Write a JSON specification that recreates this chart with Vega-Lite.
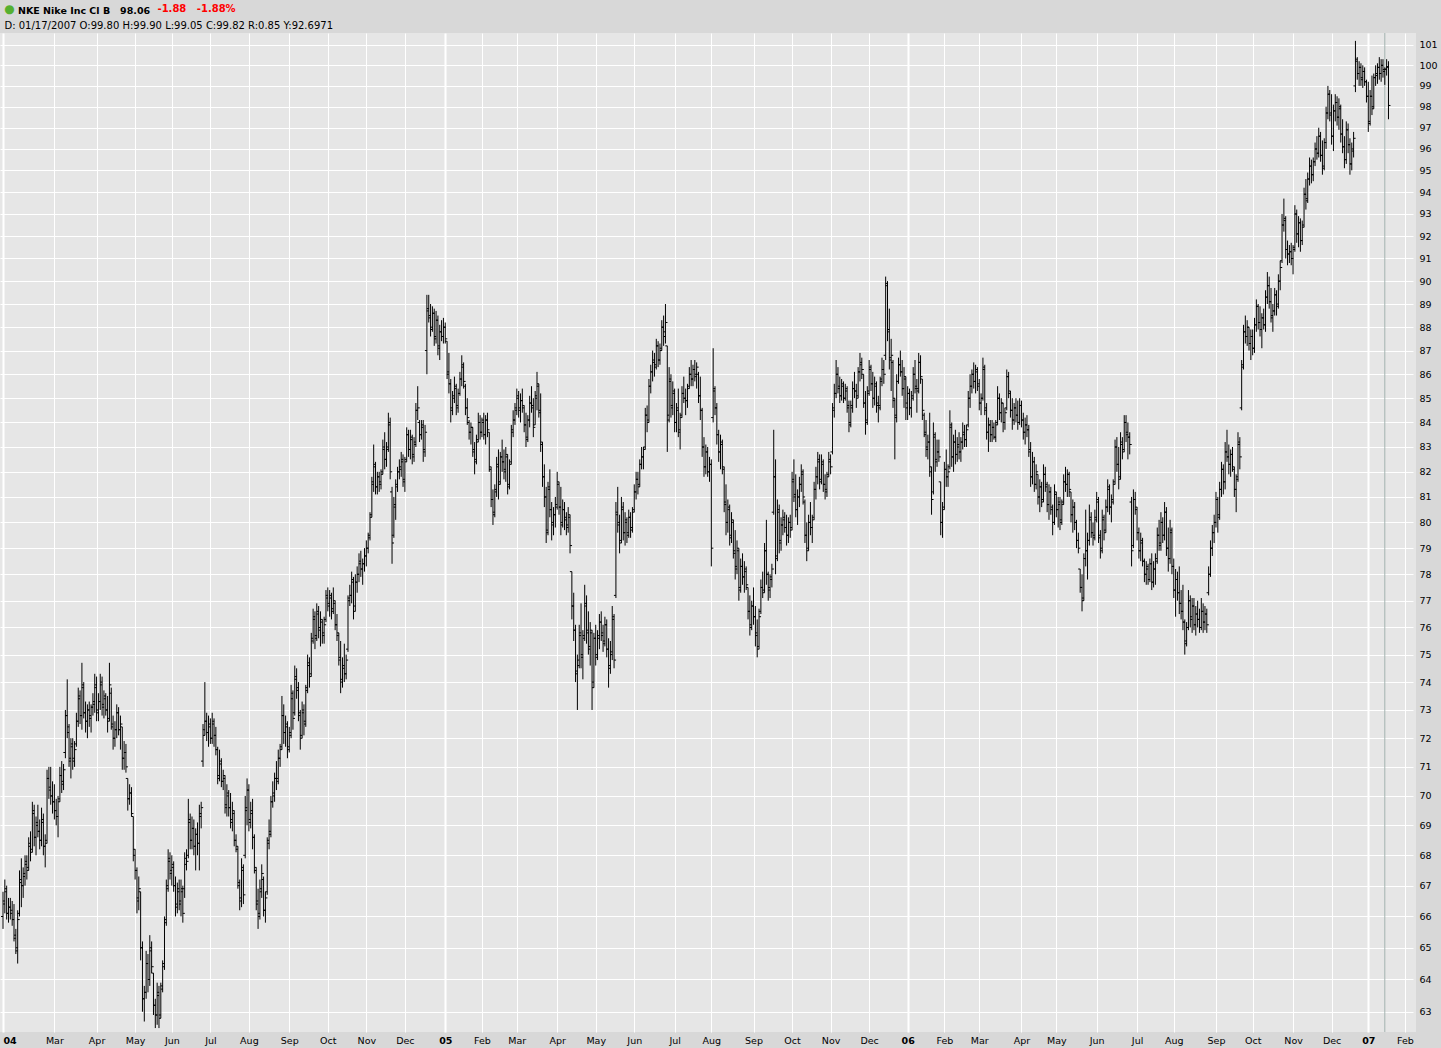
{
"$schema": "https://vega.github.io/schema/vega-lite/v6.json",
"width": 1416,
"height": 999,
"autosize": {"type": "none"},
"padding": {"left": 0, "top": 33, "right": 25, "bottom": 16},
"background": "#d8d8d8",
"config": {
  "view": {"fill": "#e6e6e6", "stroke": null},
  "axis": {"labelFont": "DejaVu Sans", "labelFontSize": 9.5, "labelColor": "#000000", "gridColor": "#ffffff", "gridOpacity": 1, "domain": false, "ticks": false}
},
"title": {
  "text": "NKE Nike Inc Cl B\u00a0\u00a0\u00a098.06",
  "anchor": "start", "frame": "group", "orient": "top", "dx": 18,
  "font": "DejaVu Sans", "fontSize": 9.5, "fontWeight": "bold", "color": "#000000",
  "offset": -13
},
"resolve": {"axis": {"y": "independent"}},
"datasets": {
"nke": [
{"d":"2004-01-20","o":66.0,"h":66.8,"l":65.6,"c":66.4},
{"d":"2004-01-21","o":66.5,"h":67.2,"l":66.1,"c":66.9},
{"d":"2004-01-22","o":66.8,"h":67.0,"l":65.9,"c":66.1},
{"d":"2004-01-23","o":66.1,"h":66.6,"l":65.8,"c":66.3},
{"d":"2004-01-26","o":66.3,"h":66.6,"l":65.9,"c":66.2},
{"d":"2004-01-27","o":66.1,"h":66.5,"l":65.7,"c":65.9},
{"d":"2004-01-28","o":65.9,"h":66.4,"l":65.2,"c":65.4},
{"d":"2004-01-29","o":65.3,"h":65.6,"l":64.8,"c":65.0},
{"d":"2004-01-30","o":64.9,"h":66.2,"l":64.5,"c":65.9},
{"d":"2004-02-02","o":66.1,"h":67.5,"l":66.0,"c":67.2},
{"d":"2004-02-03","o":67.1,"h":67.9,"l":66.3,"c":67.0},
{"d":"2004-02-04","o":67.0,"h":67.6,"l":66.6,"c":67.4},
{"d":"2004-02-05","o":67.3,"h":68.0,"l":67.0,"c":67.8},
{"d":"2004-02-06","o":67.7,"h":68.0,"l":67.2,"c":67.5},
{"d":"2004-02-09","o":67.6,"h":68.6,"l":67.5,"c":68.4},
{"d":"2004-02-10","o":68.3,"h":68.8,"l":67.8,"c":68.1},
{"d":"2004-02-11","o":68.2,"h":69.8,"l":68.1,"c":69.5},
{"d":"2004-02-12","o":69.4,"h":69.7,"l":68.3,"c":68.6},
{"d":"2004-02-13","o":68.6,"h":69.3,"l":68.0,"c":69.0},
{"d":"2004-02-17","o":69.1,"h":69.7,"l":68.6,"c":68.8},
{"d":"2004-02-18","o":68.8,"h":69.2,"l":68.2,"c":68.5},
{"d":"2004-02-19","o":68.5,"h":69.6,"l":68.3,"c":69.2},
{"d":"2004-02-20","o":69.1,"h":69.4,"l":68.0,"c":68.3},
{"d":"2004-02-23","o":68.3,"h":68.7,"l":67.6,"c":68.4},
{"d":"2004-02-24","o":68.5,"h":70.9,"l":68.4,"c":70.6},
{"d":"2004-02-25","o":70.6,"h":71.0,"l":69.9,"c":70.2},
{"d":"2004-02-26","o":70.3,"h":71.0,"l":69.7,"c":70.0},
{"d":"2004-02-27","o":70.0,"h":70.5,"l":69.4,"c":69.8},
{"d":"2004-03-01","o":69.8,"h":70.4,"l":69.2,"c":69.5},
{"d":"2004-03-02","o":69.5,"h":69.9,"l":69.0,"c":69.3},
{"d":"2004-03-03","o":69.3,"h":70.0,"l":68.6,"c":69.8},
{"d":"2004-03-04","o":69.9,"h":71.0,"l":69.8,"c":70.7},
{"d":"2004-03-05","o":70.7,"h":71.2,"l":70.1,"c":70.4},
{"d":"2004-03-08","o":70.5,"h":71.1,"l":70.2,"c":70.9},
{"d":"2004-03-09","o":71.5,"h":73.0,"l":71.3,"c":72.8},
{"d":"2004-03-10","o":72.8,"h":74.1,"l":72.0,"c":72.4},
{"d":"2004-03-11","o":72.2,"h":72.5,"l":71.0,"c":71.3},
{"d":"2004-03-12","o":71.2,"h":72.0,"l":70.6,"c":71.8},
{"d":"2004-03-15","o":71.7,"h":72.0,"l":70.9,"c":71.2},
{"d":"2004-03-16","o":71.3,"h":71.9,"l":71.0,"c":71.6},
{"d":"2004-03-17","o":71.8,"h":72.9,"l":71.7,"c":72.6},
{"d":"2004-03-18","o":72.6,"h":73.8,"l":72.4,"c":73.5},
{"d":"2004-03-19","o":73.4,"h":73.7,"l":72.5,"c":72.8},
{"d":"2004-03-22","o":72.8,"h":74.7,"l":72.3,"c":73.9},
{"d":"2004-03-23","o":73.8,"h":74.0,"l":72.7,"c":72.9},
{"d":"2004-03-24","o":72.9,"h":73.3,"l":72.2,"c":72.6},
{"d":"2004-03-25","o":72.6,"h":73.2,"l":72.0,"c":73.0},
{"d":"2004-03-26","o":73.0,"h":73.3,"l":72.4,"c":72.7},
{"d":"2004-03-29","o":72.8,"h":73.2,"l":72.2,"c":73.1},
{"d":"2004-03-30","o":73.1,"h":73.6,"l":72.8,"c":73.3},
{"d":"2004-03-31","o":73.2,"h":74.3,"l":72.9,"c":73.9},
{"d":"2004-04-01","o":73.8,"h":74.2,"l":72.6,"c":72.9},
{"d":"2004-04-02","o":73.0,"h":73.6,"l":72.6,"c":73.3},
{"d":"2004-04-05","o":73.3,"h":74.3,"l":73.0,"c":74.0},
{"d":"2004-04-06","o":73.9,"h":74.2,"l":72.8,"c":73.1},
{"d":"2004-04-07","o":73.2,"h":73.7,"l":72.7,"c":73.5},
{"d":"2004-04-08","o":73.4,"h":73.6,"l":72.8,"c":73.0},
{"d":"2004-04-12","o":73.0,"h":73.5,"l":72.2,"c":72.6},
{"d":"2004-04-13","o":72.7,"h":74.7,"l":72.6,"c":73.9},
{"d":"2004-04-14","o":73.6,"h":73.8,"l":72.3,"c":72.5},
{"d":"2004-04-15","o":72.4,"h":72.8,"l":71.6,"c":72.0},
{"d":"2004-04-16","o":72.0,"h":72.6,"l":71.7,"c":72.3},
{"d":"2004-04-19","o":72.3,"h":73.2,"l":72.0,"c":72.9},
{"d":"2004-04-20","o":72.9,"h":73.1,"l":72.1,"c":72.3},
{"d":"2004-04-21","o":72.3,"h":72.8,"l":71.6,"c":72.5},
{"d":"2004-04-22","o":72.4,"h":72.4,"l":70.9,"c":71.3},
{"d":"2004-04-23","o":71.3,"h":71.9,"l":70.9,"c":71.5},
{"d":"2004-04-26","o":71.5,"h":71.8,"l":70.8,"c":71.0},
{"d":"2004-04-27","o":70.6,"h":70.6,"l":69.5,"c":69.9},
{"d":"2004-04-28","o":69.9,"h":70.4,"l":69.7,"c":70.1},
{"d":"2004-04-29","o":70.1,"h":70.3,"l":69.3,"c":69.4},
{"d":"2004-04-30","o":69.3,"h":69.3,"l":67.8,"c":68.2},
{"d":"2004-05-03","o":68.0,"h":68.2,"l":67.2,"c":67.5},
{"d":"2004-05-04","o":67.5,"h":67.6,"l":66.1,"c":66.5},
{"d":"2004-05-05","o":66.6,"h":67.3,"l":66.2,"c":66.9},
{"d":"2004-05-06","o":66.8,"h":66.8,"l":64.6,"c":65.0},
{"d":"2004-05-07","o":65.0,"h":65.2,"l":63.0,"c":63.4},
{"d":"2004-05-10","o":63.4,"h":63.8,"l":62.7,"c":63.6},
{"d":"2004-05-11","o":63.6,"h":64.9,"l":63.4,"c":64.5},
{"d":"2004-05-12","o":64.5,"h":64.8,"l":63.6,"c":64.0},
{"d":"2004-05-13","o":64.0,"h":65.4,"l":63.8,"c":65.0},
{"d":"2004-05-14","o":64.9,"h":65.2,"l":64.2,"c":64.4},
{"d":"2004-05-17","o":64.2,"h":64.2,"l":62.9,"c":63.2},
{"d":"2004-05-18","o":63.2,"h":63.4,"l":62.5,"c":62.9},
{"d":"2004-05-19","o":62.9,"h":63.9,"l":62.6,"c":63.6},
{"d":"2004-05-20","o":63.5,"h":63.8,"l":62.5,"c":62.8},
{"d":"2004-05-21","o":62.9,"h":63.9,"l":62.8,"c":63.7},
{"d":"2004-05-24","o":63.8,"h":64.6,"l":63.6,"c":64.4},
{"d":"2004-05-25","o":64.5,"h":66.0,"l":64.3,"c":65.8},
{"d":"2004-05-26","o":65.9,"h":67.2,"l":65.7,"c":66.9},
{"d":"2004-05-27","o":67.0,"h":68.2,"l":66.8,"c":67.9},
{"d":"2004-05-28","o":67.8,"h":68.1,"l":67.2,"c":67.5},
{"d":"2004-06-01","o":67.4,"h":68.0,"l":67.0,"c":67.7},
{"d":"2004-06-02","o":67.6,"h":67.8,"l":66.8,"c":67.0},
{"d":"2004-06-03","o":67.0,"h":67.3,"l":66.0,"c":66.3},
{"d":"2004-06-04","o":66.4,"h":67.1,"l":66.1,"c":66.8},
{"d":"2004-06-07","o":66.9,"h":67.2,"l":66.2,"c":66.5},
{"d":"2004-06-08","o":66.4,"h":67.2,"l":66.0,"c":66.9},
{"d":"2004-06-09","o":66.8,"h":67.0,"l":65.8,"c":66.1},
{"d":"2004-06-10","o":66.9,"h":68.1,"l":66.6,"c":67.9},
{"d":"2004-06-14","o":67.7,"h":68.2,"l":67.5,"c":67.8},
{"d":"2004-06-15","o":68.0,"h":69.9,"l":67.9,"c":69.2},
{"d":"2004-06-16","o":69.1,"h":69.4,"l":68.2,"c":68.5},
{"d":"2004-06-17","o":68.5,"h":69.3,"l":68.2,"c":68.9},
{"d":"2004-06-18","o":68.9,"h":69.2,"l":68.0,"c":68.3},
{"d":"2004-06-21","o":68.3,"h":68.9,"l":67.5,"c":68.7},
{"d":"2004-06-22","o":68.7,"h":69.1,"l":68.0,"c":68.4},
{"d":"2004-06-23","o":68.4,"h":69.7,"l":67.5,"c":69.4},
{"d":"2004-06-24","o":69.3,"h":69.8,"l":68.9,"c":69.6},
{"d":"2004-06-25","o":71.2,"h":72.5,"l":71.0,"c":72.1},
{"d":"2004-06-28","o":72.3,"h":74.0,"l":72.1,"c":72.6},
{"d":"2004-06-29","o":72.6,"h":72.9,"l":71.9,"c":72.2},
{"d":"2004-06-30","o":72.2,"h":72.8,"l":71.7,"c":72.5},
{"d":"2004-07-01","o":72.4,"h":72.7,"l":71.8,"c":72.0},
{"d":"2004-07-02","o":72.0,"h":72.9,"l":71.8,"c":72.6},
{"d":"2004-07-06","o":72.5,"h":72.7,"l":71.7,"c":72.1},
{"d":"2004-07-07","o":72.1,"h":72.4,"l":71.4,"c":71.6},
{"d":"2004-07-08","o":71.6,"h":71.7,"l":70.4,"c":70.6},
{"d":"2004-07-09","o":70.7,"h":71.6,"l":70.5,"c":71.2},
{"d":"2004-07-12","o":71.1,"h":71.3,"l":70.3,"c":70.5},
{"d":"2004-07-13","o":70.5,"h":70.9,"l":70.2,"c":70.7},
{"d":"2004-07-14","o":70.6,"h":70.7,"l":69.4,"c":69.6},
{"d":"2004-07-15","o":69.7,"h":70.4,"l":69.3,"c":70.1},
{"d":"2004-07-16","o":70.0,"h":70.2,"l":69.3,"c":69.6},
{"d":"2004-07-19","o":69.6,"h":70.1,"l":68.9,"c":69.1},
{"d":"2004-07-20","o":69.2,"h":69.8,"l":68.8,"c":69.5},
{"d":"2004-07-21","o":69.4,"h":69.5,"l":68.3,"c":68.5},
{"d":"2004-07-22","o":68.5,"h":68.7,"l":68.1,"c":68.3},
{"d":"2004-07-23","o":68.2,"h":68.3,"l":66.9,"c":67.1},
{"d":"2004-07-26","o":67.0,"h":67.2,"l":66.2,"c":66.5},
{"d":"2004-07-27","o":66.6,"h":67.9,"l":66.3,"c":67.6},
{"d":"2004-07-28","o":67.5,"h":67.7,"l":66.4,"c":66.7},
{"d":"2004-07-29","o":68.0,"h":70.0,"l":67.9,"c":69.6},
{"d":"2004-07-30","o":69.5,"h":70.6,"l":69.0,"c":70.2},
{"d":"2004-08-02","o":70.2,"h":70.4,"l":68.8,"c":69.1},
{"d":"2004-08-03","o":69.2,"h":69.8,"l":68.9,"c":69.5},
{"d":"2004-08-04","o":69.4,"h":69.9,"l":68.2,"c":68.6},
{"d":"2004-08-05","o":68.6,"h":68.7,"l":67.4,"c":67.6},
{"d":"2004-08-06","o":67.5,"h":67.6,"l":66.2,"c":66.5},
{"d":"2004-08-09","o":66.4,"h":66.9,"l":65.6,"c":66.0},
{"d":"2004-08-10","o":66.1,"h":67.2,"l":65.9,"c":66.9},
{"d":"2004-08-11","o":66.8,"h":67.7,"l":66.6,"c":67.4},
{"d":"2004-08-12","o":67.2,"h":67.3,"l":66.0,"c":66.2},
{"d":"2004-08-13","o":66.2,"h":66.8,"l":65.8,"c":66.6},
{"d":"2004-08-16","o":66.8,"h":68.6,"l":66.7,"c":68.4},
{"d":"2004-08-17","o":68.5,"h":69.2,"l":68.2,"c":68.7},
{"d":"2004-08-18","o":68.8,"h":70.0,"l":68.6,"c":69.8},
{"d":"2004-08-19","o":69.8,"h":70.5,"l":69.6,"c":70.0},
{"d":"2004-08-20","o":70.1,"h":70.8,"l":69.8,"c":70.6},
{"d":"2004-08-23","o":70.6,"h":71.2,"l":70.2,"c":70.5},
{"d":"2004-08-24","o":70.6,"h":71.6,"l":70.4,"c":71.3},
{"d":"2004-08-25","o":71.3,"h":71.8,"l":71.0,"c":71.6},
{"d":"2004-08-26","o":71.7,"h":73.5,"l":71.6,"c":72.8},
{"d":"2004-08-27","o":72.8,"h":73.2,"l":71.8,"c":72.2},
{"d":"2004-08-30","o":72.2,"h":72.8,"l":71.7,"c":72.5},
{"d":"2004-08-31","o":72.4,"h":72.6,"l":71.3,"c":71.6},
{"d":"2004-09-01","o":71.7,"h":72.4,"l":71.5,"c":72.1},
{"d":"2004-09-02","o":72.2,"h":73.9,"l":72.0,"c":73.6},
{"d":"2004-09-03","o":73.4,"h":73.7,"l":72.3,"c":72.7},
{"d":"2004-09-07","o":72.9,"h":74.6,"l":72.8,"c":74.2},
{"d":"2004-09-08","o":74.1,"h":74.5,"l":73.4,"c":73.8},
{"d":"2004-09-09","o":73.7,"h":74.0,"l":72.6,"c":72.9},
{"d":"2004-09-10","o":72.8,"h":73.0,"l":71.6,"c":72.0},
{"d":"2004-09-13","o":72.1,"h":73.3,"l":72.0,"c":73.0},
{"d":"2004-09-14","o":72.9,"h":73.2,"l":72.1,"c":72.5},
{"d":"2004-09-15","o":72.6,"h":73.9,"l":72.4,"c":73.7},
{"d":"2004-09-16","o":73.8,"h":75.0,"l":73.6,"c":74.7},
{"d":"2004-09-17","o":74.6,"h":74.9,"l":73.8,"c":74.2},
{"d":"2004-09-20","o":74.3,"h":75.8,"l":74.2,"c":75.5},
{"d":"2004-09-21","o":75.6,"h":76.7,"l":75.4,"c":76.4},
{"d":"2004-09-22","o":76.3,"h":76.6,"l":75.2,"c":75.6},
{"d":"2004-09-23","o":75.7,"h":76.9,"l":75.5,"c":76.6},
{"d":"2004-09-24","o":76.5,"h":76.8,"l":75.6,"c":75.9},
{"d":"2004-09-27","o":76.0,"h":76.6,"l":75.3,"c":76.3},
{"d":"2004-09-28","o":76.2,"h":76.3,"l":75.4,"c":75.7},
{"d":"2004-09-29","o":75.8,"h":76.4,"l":75.4,"c":76.1},
{"d":"2004-09-30","o":76.3,"h":77.4,"l":76.2,"c":77.1},
{"d":"2004-10-01","o":77.2,"h":77.5,"l":76.6,"c":76.8},
{"d":"2004-10-04","o":76.9,"h":77.4,"l":76.4,"c":77.2},
{"d":"2004-10-05","o":77.1,"h":77.3,"l":76.3,"c":76.6},
{"d":"2004-10-06","o":76.7,"h":77.5,"l":76.5,"c":77.0},
{"d":"2004-10-07","o":76.9,"h":77.0,"l":75.9,"c":76.1},
{"d":"2004-10-08","o":76.1,"h":76.5,"l":75.5,"c":75.8},
{"d":"2004-10-11","o":75.7,"h":75.8,"l":74.6,"c":74.9},
{"d":"2004-10-12","o":74.8,"h":75.5,"l":73.6,"c":74.0},
{"d":"2004-10-13","o":74.1,"h":74.9,"l":73.8,"c":74.6},
{"d":"2004-10-14","o":74.5,"h":75.4,"l":74.0,"c":74.3},
{"d":"2004-10-15","o":74.3,"h":75.0,"l":74.1,"c":74.8},
{"d":"2004-10-18","o":75.2,"h":77.2,"l":75.1,"c":77.0},
{"d":"2004-10-19","o":77.1,"h":77.6,"l":76.8,"c":77.2},
{"d":"2004-10-20","o":77.2,"h":78.1,"l":76.9,"c":77.8},
{"d":"2004-10-21","o":77.7,"h":77.9,"l":76.3,"c":76.6},
{"d":"2004-10-22","o":76.8,"h":78.0,"l":76.6,"c":77.7},
{"d":"2004-10-25","o":77.7,"h":78.3,"l":77.3,"c":78.0},
{"d":"2004-10-26","o":78.0,"h":78.8,"l":77.7,"c":78.5},
{"d":"2004-10-27","o":78.4,"h":78.9,"l":77.9,"c":78.2},
{"d":"2004-10-28","o":78.2,"h":78.6,"l":77.6,"c":78.4},
{"d":"2004-10-29","o":78.4,"h":79.0,"l":78.1,"c":78.7},
{"d":"2004-11-01","o":78.7,"h":79.3,"l":78.3,"c":79.0},
{"d":"2004-11-02","o":79.0,"h":79.6,"l":78.8,"c":79.4},
{"d":"2004-11-03","o":79.5,"h":80.4,"l":79.3,"c":80.2},
{"d":"2004-11-04","o":80.3,"h":81.8,"l":80.2,"c":81.5},
{"d":"2004-11-05","o":81.6,"h":83.1,"l":81.2,"c":82.3},
{"d":"2004-11-08","o":82.2,"h":82.4,"l":81.1,"c":81.4},
{"d":"2004-11-09","o":81.4,"h":82.0,"l":81.1,"c":81.8},
{"d":"2004-11-10","o":81.8,"h":82.0,"l":81.2,"c":81.5},
{"d":"2004-11-11","o":81.6,"h":82.1,"l":81.3,"c":81.9},
{"d":"2004-11-12","o":82.0,"h":83.3,"l":81.9,"c":83.0},
{"d":"2004-11-15","o":82.9,"h":83.6,"l":82.1,"c":82.5},
{"d":"2004-11-16","o":82.5,"h":83.2,"l":82.2,"c":82.9},
{"d":"2004-11-17","o":83.0,"h":84.4,"l":82.8,"c":84.0},
{"d":"2004-11-18","o":83.9,"h":84.2,"l":81.7,"c":82.0},
{"d":"2004-11-19","o":81.2,"h":81.4,"l":78.4,"c":79.2},
{"d":"2004-11-22","o":79.5,"h":81.0,"l":79.4,"c":80.7},
{"d":"2004-11-23","o":80.6,"h":81.7,"l":80.1,"c":81.4},
{"d":"2004-11-24","o":81.5,"h":82.2,"l":81.2,"c":82.0},
{"d":"2004-11-26","o":82.0,"h":82.5,"l":81.7,"c":82.1},
{"d":"2004-11-29","o":82.2,"h":82.8,"l":81.8,"c":82.5},
{"d":"2004-11-30","o":82.4,"h":82.7,"l":81.4,"c":81.6},
{"d":"2004-12-01","o":81.7,"h":82.6,"l":81.2,"c":82.4},
{"d":"2004-12-02","o":82.5,"h":83.8,"l":82.4,"c":83.5},
{"d":"2004-12-03","o":83.5,"h":83.7,"l":82.6,"c":82.9},
{"d":"2004-12-06","o":82.9,"h":83.7,"l":82.5,"c":83.4},
{"d":"2004-12-07","o":83.3,"h":83.5,"l":82.3,"c":82.6},
{"d":"2004-12-08","o":82.7,"h":83.4,"l":82.4,"c":83.1},
{"d":"2004-12-09","o":83.2,"h":84.8,"l":83.0,"c":84.5},
{"d":"2004-12-10","o":84.5,"h":85.5,"l":84.1,"c":84.6},
{"d":"2004-12-13","o":84.0,"h":84.1,"l":83.2,"c":83.5},
{"d":"2004-12-14","o":83.5,"h":84.1,"l":83.3,"c":83.9},
{"d":"2004-12-15","o":83.8,"h":84.1,"l":82.4,"c":82.8},
{"d":"2004-12-16","o":82.9,"h":83.9,"l":82.6,"c":83.6},
{"d":"2004-12-17","o":87.0,"h":89.4,"l":86.0,"c":88.8},
{"d":"2004-12-20","o":88.7,"h":89.4,"l":88.2,"c":88.5},
{"d":"2004-12-21","o":88.4,"h":89.0,"l":87.6,"c":87.9},
{"d":"2004-12-22","o":88.0,"h":88.9,"l":87.8,"c":88.6},
{"d":"2004-12-23","o":88.6,"h":88.8,"l":87.2,"c":87.5},
{"d":"2004-12-27","o":87.6,"h":88.7,"l":87.3,"c":88.3},
{"d":"2004-12-28","o":88.3,"h":88.5,"l":86.8,"c":87.1},
{"d":"2004-12-29","o":87.2,"h":88.1,"l":86.6,"c":87.8},
{"d":"2004-12-30","o":87.8,"h":88.3,"l":87.4,"c":87.6},
{"d":"2004-12-31","o":87.6,"h":88.4,"l":87.3,"c":88.0},
{"d":"2005-01-03","o":88.0,"h":88.2,"l":87.3,"c":87.5},
{"d":"2005-01-04","o":87.4,"h":87.4,"l":85.8,"c":86.1},
{"d":"2005-01-05","o":86.0,"h":86.9,"l":85.2,"c":85.6},
{"d":"2005-01-06","o":85.6,"h":85.8,"l":84.0,"c":84.5},
{"d":"2005-01-07","o":84.6,"h":85.3,"l":84.3,"c":85.0},
{"d":"2005-01-10","o":85.1,"h":85.9,"l":84.8,"c":85.5},
{"d":"2005-01-11","o":85.4,"h":85.6,"l":84.3,"c":84.6},
{"d":"2005-01-12","o":84.7,"h":85.4,"l":84.4,"c":85.2},
{"d":"2005-01-13","o":85.2,"h":86.1,"l":85.1,"c":85.8},
{"d":"2005-01-14","o":85.8,"h":86.8,"l":85.5,"c":86.4},
{"d":"2005-01-18","o":86.3,"h":86.5,"l":85.4,"c":85.7},
{"d":"2005-01-19","o":85.5,"h":85.6,"l":84.3,"c":84.6},
{"d":"2005-01-20","o":84.6,"h":85.0,"l":83.9,"c":84.2},
{"d":"2005-01-21","o":84.0,"h":84.1,"l":83.3,"c":83.6},
{"d":"2005-01-24","o":83.6,"h":84.0,"l":83.1,"c":83.8},
{"d":"2005-01-25","o":83.8,"h":83.8,"l":82.6,"c":82.9},
{"d":"2005-01-26","o":82.8,"h":83.2,"l":81.9,"c":82.4},
{"d":"2005-01-27","o":82.5,"h":83.5,"l":82.3,"c":83.2},
{"d":"2005-01-28","o":83.3,"h":84.4,"l":83.2,"c":84.0},
{"d":"2005-01-31","o":84.0,"h":84.3,"l":83.3,"c":83.6},
{"d":"2005-02-01","o":83.6,"h":84.2,"l":83.4,"c":84.0},
{"d":"2005-02-02","o":84.1,"h":84.4,"l":83.3,"c":83.5},
{"d":"2005-02-03","o":83.5,"h":84.3,"l":83.1,"c":84.1},
{"d":"2005-02-04","o":84.1,"h":84.4,"l":83.4,"c":83.7},
{"d":"2005-02-07","o":83.6,"h":83.6,"l":82.0,"c":82.2},
{"d":"2005-02-08","o":82.1,"h":82.2,"l":80.6,"c":80.9},
{"d":"2005-02-09","o":80.9,"h":81.3,"l":79.9,"c":80.3},
{"d":"2005-02-10","o":80.4,"h":81.5,"l":80.2,"c":81.2},
{"d":"2005-02-11","o":81.3,"h":82.6,"l":81.0,"c":82.3},
{"d":"2005-02-14","o":82.2,"h":82.9,"l":80.9,"c":81.5},
{"d":"2005-02-15","o":81.6,"h":82.8,"l":81.5,"c":82.6},
{"d":"2005-02-16","o":82.6,"h":83.3,"l":82.0,"c":82.4},
{"d":"2005-02-17","o":82.4,"h":82.9,"l":81.7,"c":82.0},
{"d":"2005-02-18","o":82.1,"h":83.0,"l":81.6,"c":82.7},
{"d":"2005-02-22","o":82.6,"h":82.7,"l":81.1,"c":81.4},
{"d":"2005-02-23","o":81.5,"h":82.5,"l":81.3,"c":82.3},
{"d":"2005-02-24","o":82.4,"h":83.9,"l":82.3,"c":83.6},
{"d":"2005-02-25","o":83.7,"h":84.5,"l":83.4,"c":84.1},
{"d":"2005-02-28","o":84.1,"h":84.8,"l":83.9,"c":84.5},
{"d":"2005-03-01","o":84.6,"h":85.4,"l":84.3,"c":85.1},
{"d":"2005-03-02","o":85.0,"h":85.3,"l":84.2,"c":84.5},
{"d":"2005-03-03","o":84.6,"h":85.2,"l":84.0,"c":84.9},
{"d":"2005-03-04","o":84.9,"h":85.4,"l":84.4,"c":84.7},
{"d":"2005-03-07","o":84.6,"h":84.7,"l":83.6,"c":83.9},
{"d":"2005-03-08","o":83.9,"h":84.4,"l":83.0,"c":83.3},
{"d":"2005-03-09","o":83.4,"h":84.3,"l":83.2,"c":84.1},
{"d":"2005-03-10","o":84.1,"h":85.1,"l":83.8,"c":84.8},
{"d":"2005-03-11","o":84.8,"h":85.5,"l":84.4,"c":84.7},
{"d":"2005-03-14","o":84.6,"h":85.0,"l":83.4,"c":83.8},
{"d":"2005-03-15","o":83.9,"h":85.3,"l":83.9,"c":85.0},
{"d":"2005-03-16","o":85.1,"h":86.1,"l":84.5,"c":85.6},
{"d":"2005-03-17","o":85.5,"h":85.6,"l":84.2,"c":84.4},
{"d":"2005-03-18","o":84.5,"h":85.2,"l":82.8,"c":83.2},
{"d":"2005-03-21","o":83.1,"h":83.2,"l":81.4,"c":81.8},
{"d":"2005-03-22","o":81.8,"h":82.3,"l":80.6,"c":81.0},
{"d":"2005-03-23","o":81.0,"h":81.4,"l":79.2,"c":79.6},
{"d":"2005-03-24","o":79.7,"h":81.6,"l":79.5,"c":81.3},
{"d":"2005-03-28","o":81.4,"h":82.1,"l":80.2,"c":80.5},
{"d":"2005-03-29","o":80.5,"h":80.8,"l":79.3,"c":79.9},
{"d":"2005-03-30","o":80.0,"h":80.6,"l":79.5,"c":80.3},
{"d":"2005-03-31","o":80.3,"h":81.0,"l":79.8,"c":80.6},
{"d":"2005-04-01","o":80.7,"h":82.0,"l":80.5,"c":81.6},
{"d":"2005-04-04","o":81.5,"h":81.6,"l":80.3,"c":80.6},
{"d":"2005-04-05","o":80.6,"h":81.4,"l":79.5,"c":79.9},
{"d":"2005-04-06","o":80.0,"h":80.9,"l":79.8,"c":80.5},
{"d":"2005-04-07","o":80.5,"h":80.8,"l":79.7,"c":80.2},
{"d":"2005-04-08","o":80.1,"h":80.4,"l":79.5,"c":79.8},
{"d":"2005-04-11","o":79.9,"h":80.6,"l":79.6,"c":80.3},
{"d":"2005-04-12","o":80.2,"h":80.3,"l":78.8,"c":79.1},
{"d":"2005-04-13","o":78.1,"h":78.1,"l":76.3,"c":76.8},
{"d":"2005-04-14","o":76.8,"h":77.3,"l":75.5,"c":75.9},
{"d":"2005-04-15","o":75.9,"h":76.1,"l":74.0,"c":74.4},
{"d":"2005-04-18","o":74.3,"h":75.0,"l":73.0,"c":74.6},
{"d":"2005-04-19","o":74.8,"h":76.1,"l":74.5,"c":75.8},
{"d":"2005-04-20","o":75.7,"h":76.9,"l":74.5,"c":74.9},
{"d":"2005-04-21","o":75.0,"h":75.9,"l":74.1,"c":75.6},
{"d":"2005-04-22","o":75.7,"h":77.6,"l":75.5,"c":76.9},
{"d":"2005-04-25","o":76.8,"h":77.2,"l":75.4,"c":75.8},
{"d":"2005-04-26","o":75.9,"h":76.6,"l":75.0,"c":75.3},
{"d":"2005-04-27","o":75.2,"h":76.2,"l":74.6,"c":75.9},
{"d":"2005-04-28","o":75.8,"h":75.9,"l":73.0,"c":73.8},
{"d":"2005-04-29","o":74.0,"h":75.8,"l":73.8,"c":75.6},
{"d":"2005-05-02","o":75.6,"h":76.1,"l":74.6,"c":74.9},
{"d":"2005-05-03","o":75.0,"h":75.9,"l":74.8,"c":75.6},
{"d":"2005-05-04","o":75.7,"h":76.5,"l":75.2,"c":76.2},
{"d":"2005-05-05","o":76.2,"h":76.6,"l":75.5,"c":75.8},
{"d":"2005-05-06","o":75.7,"h":76.1,"l":75.1,"c":75.4},
{"d":"2005-05-09","o":75.5,"h":76.4,"l":75.3,"c":76.1},
{"d":"2005-05-10","o":76.1,"h":76.3,"l":74.9,"c":75.2},
{"d":"2005-05-11","o":75.2,"h":75.6,"l":73.8,"c":74.5},
{"d":"2005-05-12","o":74.6,"h":75.5,"l":74.3,"c":75.1},
{"d":"2005-05-13","o":75.0,"h":76.8,"l":74.8,"c":76.4},
{"d":"2005-05-16","o":76.3,"h":76.5,"l":74.5,"c":74.8},
{"d":"2005-05-17","o":77.2,"h":80.8,"l":77.1,"c":80.3},
{"d":"2005-05-18","o":80.4,"h":81.4,"l":79.6,"c":80.0},
{"d":"2005-05-19","o":79.9,"h":80.3,"l":78.8,"c":79.2},
{"d":"2005-05-20","o":79.3,"h":81.0,"l":79.2,"c":80.6},
{"d":"2005-05-23","o":80.5,"h":80.8,"l":79.3,"c":79.6},
{"d":"2005-05-24","o":79.6,"h":80.4,"l":79.1,"c":80.1},
{"d":"2005-05-25","o":80.0,"h":80.2,"l":79.2,"c":79.5},
{"d":"2005-05-26","o":79.6,"h":80.5,"l":79.4,"c":80.2},
{"d":"2005-05-27","o":80.2,"h":80.4,"l":79.4,"c":79.7},
{"d":"2005-05-31","o":79.8,"h":80.6,"l":79.6,"c":80.4},
{"d":"2005-06-01","o":80.5,"h":81.5,"l":80.4,"c":81.2},
{"d":"2005-06-02","o":81.2,"h":82.0,"l":80.9,"c":81.7},
{"d":"2005-06-03","o":81.7,"h":82.0,"l":81.1,"c":81.4},
{"d":"2005-06-06","o":81.5,"h":82.5,"l":81.4,"c":82.3},
{"d":"2005-06-07","o":82.3,"h":83.0,"l":82.1,"c":82.6},
{"d":"2005-06-08","o":82.6,"h":83.0,"l":82.1,"c":82.9},
{"d":"2005-06-09","o":83.0,"h":84.6,"l":82.9,"c":84.3},
{"d":"2005-06-10","o":84.3,"h":84.7,"l":83.6,"c":84.0},
{"d":"2005-06-13","o":84.1,"h":85.8,"l":84.0,"c":85.5},
{"d":"2005-06-14","o":85.5,"h":86.4,"l":85.2,"c":86.1},
{"d":"2005-06-15","o":86.1,"h":87.0,"l":85.7,"c":86.6},
{"d":"2005-06-16","o":86.5,"h":86.9,"l":85.9,"c":86.3},
{"d":"2005-06-17","o":86.4,"h":87.5,"l":86.2,"c":87.2},
{"d":"2005-06-20","o":87.2,"h":87.4,"l":86.3,"c":86.6},
{"d":"2005-06-21","o":86.6,"h":87.3,"l":86.4,"c":87.0},
{"d":"2005-06-22","o":87.1,"h":88.3,"l":87.0,"c":88.0},
{"d":"2005-06-23","o":88.0,"h":88.5,"l":87.2,"c":87.6},
{"d":"2005-06-24","o":87.8,"h":89.0,"l":87.3,"c":88.2},
{"d":"2005-06-27","o":87.2,"h":87.2,"l":82.8,"c":84.1},
{"d":"2005-06-28","o":84.3,"h":86.3,"l":84.0,"c":85.8},
{"d":"2005-06-29","o":85.7,"h":86.0,"l":84.2,"c":84.6},
{"d":"2005-06-30","o":84.7,"h":85.7,"l":84.3,"c":85.3},
{"d":"2005-07-01","o":85.2,"h":85.4,"l":83.6,"c":84.0},
{"d":"2005-07-05","o":84.0,"h":84.8,"l":83.6,"c":84.5},
{"d":"2005-07-06","o":84.6,"h":85.4,"l":83.4,"c":83.7},
{"d":"2005-07-07","o":83.6,"h":84.4,"l":82.9,"c":84.2},
{"d":"2005-07-08","o":84.3,"h":85.5,"l":84.2,"c":85.2},
{"d":"2005-07-11","o":85.2,"h":85.9,"l":84.8,"c":85.0},
{"d":"2005-07-12","o":85.0,"h":85.4,"l":84.3,"c":84.9},
{"d":"2005-07-13","o":84.9,"h":85.6,"l":84.6,"c":85.4},
{"d":"2005-07-14","o":85.5,"h":86.3,"l":85.4,"c":86.0},
{"d":"2005-07-15","o":86.0,"h":86.6,"l":85.5,"c":85.8},
{"d":"2005-07-18","o":85.8,"h":86.4,"l":85.5,"c":86.2},
{"d":"2005-07-19","o":86.2,"h":86.6,"l":85.7,"c":86.0},
{"d":"2005-07-20","o":85.9,"h":86.5,"l":85.4,"c":86.3},
{"d":"2005-07-21","o":86.0,"h":86.1,"l":84.8,"c":85.1},
{"d":"2005-07-22","o":85.1,"h":85.9,"l":84.1,"c":84.5},
{"d":"2005-07-25","o":84.5,"h":84.6,"l":82.6,"c":83.0},
{"d":"2005-07-26","o":83.0,"h":83.4,"l":81.8,"c":82.2},
{"d":"2005-07-27","o":82.2,"h":83.1,"l":81.9,"c":82.8},
{"d":"2005-07-28","o":82.8,"h":83.0,"l":81.8,"c":82.0},
{"d":"2005-07-29","o":82.0,"h":82.6,"l":81.6,"c":82.3},
{"d":"2005-08-01","o":82.3,"h":82.5,"l":78.3,"c":79.0},
{"d":"2005-08-02","o":84.2,"h":87.1,"l":84.0,"c":85.4},
{"d":"2005-08-03","o":85.3,"h":85.5,"l":84.3,"c":84.6},
{"d":"2005-08-04","o":84.6,"h":84.8,"l":83.1,"c":83.5},
{"d":"2005-08-05","o":83.5,"h":83.7,"l":82.4,"c":82.8},
{"d":"2005-08-08","o":82.8,"h":83.5,"l":82.1,"c":83.2},
{"d":"2005-08-09","o":83.1,"h":83.3,"l":81.9,"c":82.2},
{"d":"2005-08-10","o":82.1,"h":82.2,"l":80.4,"c":80.7},
{"d":"2005-08-11","o":80.8,"h":81.5,"l":79.5,"c":80.0},
{"d":"2005-08-12","o":80.0,"h":80.9,"l":79.6,"c":80.6},
{"d":"2005-08-15","o":80.5,"h":80.7,"l":79.1,"c":79.4},
{"d":"2005-08-16","o":79.5,"h":80.4,"l":79.2,"c":80.1},
{"d":"2005-08-17","o":80.0,"h":80.1,"l":78.6,"c":78.8},
{"d":"2005-08-18","o":78.9,"h":79.7,"l":77.8,"c":78.2},
{"d":"2005-08-19","o":78.3,"h":79.3,"l":78.0,"c":79.0},
{"d":"2005-08-22","o":78.9,"h":79.0,"l":77.0,"c":77.4},
{"d":"2005-08-23","o":77.5,"h":78.6,"l":77.3,"c":78.3},
{"d":"2005-08-24","o":78.3,"h":78.8,"l":77.6,"c":77.9},
{"d":"2005-08-25","o":77.9,"h":78.5,"l":77.3,"c":78.2},
{"d":"2005-08-26","o":78.1,"h":78.3,"l":77.4,"c":77.6},
{"d":"2005-08-29","o":77.5,"h":77.5,"l":76.3,"c":76.6},
{"d":"2005-08-30","o":76.6,"h":77.2,"l":75.7,"c":76.0},
{"d":"2005-08-31","o":76.1,"h":77.0,"l":75.9,"c":76.8},
{"d":"2005-09-01","o":76.8,"h":77.5,"l":76.1,"c":76.4},
{"d":"2005-09-02","o":76.4,"h":76.8,"l":75.3,"c":75.7},
{"d":"2005-09-06","o":75.8,"h":76.3,"l":74.9,"c":75.2},
{"d":"2005-09-07","o":75.3,"h":76.7,"l":75.2,"c":76.4},
{"d":"2005-09-08","o":76.6,"h":77.8,"l":76.5,"c":77.5},
{"d":"2005-09-09","o":77.5,"h":78.1,"l":77.1,"c":77.3},
{"d":"2005-09-12","o":77.4,"h":79.2,"l":77.3,"c":78.9},
{"d":"2005-09-13","o":78.9,"h":80.1,"l":77.6,"c":78.0},
{"d":"2005-09-14","o":78.0,"h":78.1,"l":77.0,"c":77.4},
{"d":"2005-09-15","o":77.5,"h":78.0,"l":77.1,"c":77.8},
{"d":"2005-09-16","o":77.9,"h":78.4,"l":77.5,"c":78.2},
{"d":"2005-09-19","o":80.4,"h":83.7,"l":80.3,"c":81.8},
{"d":"2005-09-20","o":81.8,"h":82.5,"l":78.0,"c":78.6},
{"d":"2005-09-21","o":78.7,"h":80.9,"l":78.5,"c":80.5},
{"d":"2005-09-22","o":80.4,"h":80.7,"l":78.8,"c":79.2},
{"d":"2005-09-23","o":79.3,"h":80.2,"l":78.9,"c":79.9},
{"d":"2005-09-26","o":79.9,"h":80.5,"l":79.5,"c":80.2},
{"d":"2005-09-27","o":80.1,"h":80.4,"l":79.6,"c":79.8},
{"d":"2005-09-28","o":79.8,"h":80.3,"l":79.1,"c":79.5},
{"d":"2005-09-29","o":79.5,"h":80.2,"l":79.2,"c":80.0},
{"d":"2005-09-30","o":80.0,"h":80.3,"l":79.4,"c":79.7},
{"d":"2005-10-03","o":79.8,"h":82.0,"l":79.7,"c":81.7},
{"d":"2005-10-04","o":81.6,"h":82.5,"l":80.8,"c":81.1},
{"d":"2005-10-05","o":81.0,"h":81.9,"l":80.2,"c":80.5},
{"d":"2005-10-06","o":80.5,"h":81.3,"l":79.9,"c":81.0},
{"d":"2005-10-07","o":81.0,"h":81.8,"l":80.6,"c":81.5},
{"d":"2005-10-10","o":81.5,"h":82.3,"l":81.2,"c":82.0},
{"d":"2005-10-11","o":81.9,"h":82.1,"l":80.7,"c":81.0},
{"d":"2005-10-12","o":80.8,"h":80.9,"l":79.2,"c":79.5},
{"d":"2005-10-13","o":79.5,"h":80.0,"l":78.5,"c":78.9},
{"d":"2005-10-14","o":79.0,"h":80.3,"l":78.9,"c":80.0},
{"d":"2005-10-17","o":80.0,"h":80.8,"l":79.5,"c":79.8},
{"d":"2005-10-18","o":79.8,"h":80.3,"l":79.2,"c":80.1},
{"d":"2005-10-19","o":80.2,"h":81.6,"l":80.1,"c":81.3},
{"d":"2005-10-20","o":81.3,"h":82.2,"l":80.9,"c":81.8},
{"d":"2005-10-21","o":81.8,"h":82.8,"l":81.5,"c":82.5},
{"d":"2005-10-24","o":82.4,"h":82.7,"l":81.3,"c":81.6},
{"d":"2005-10-25","o":81.7,"h":82.7,"l":81.5,"c":82.4},
{"d":"2005-10-26","o":82.3,"h":82.5,"l":81.2,"c":81.5},
{"d":"2005-10-27","o":81.5,"h":81.9,"l":80.9,"c":81.2},
{"d":"2005-10-28","o":81.3,"h":82.0,"l":81.0,"c":81.8},
{"d":"2005-10-31","o":81.9,"h":82.8,"l":81.8,"c":82.5},
{"d":"2005-11-01","o":82.4,"h":82.7,"l":81.9,"c":82.2},
{"d":"2005-11-02","o":82.8,"h":84.8,"l":82.7,"c":84.5},
{"d":"2005-11-03","o":84.6,"h":85.6,"l":84.2,"c":85.2},
{"d":"2005-11-04","o":85.2,"h":86.6,"l":85.0,"c":86.0},
{"d":"2005-11-07","o":86.0,"h":86.3,"l":85.2,"c":85.5},
{"d":"2005-11-08","o":85.4,"h":85.9,"l":84.8,"c":85.1},
{"d":"2005-11-09","o":85.1,"h":85.8,"l":84.9,"c":85.6},
{"d":"2005-11-10","o":85.5,"h":85.7,"l":84.8,"c":85.0},
{"d":"2005-11-11","o":85.0,"h":85.6,"l":84.9,"c":85.4},
{"d":"2005-11-14","o":85.3,"h":85.5,"l":84.4,"c":84.7},
{"d":"2005-11-15","o":84.6,"h":84.9,"l":83.6,"c":83.9},
{"d":"2005-11-16","o":84.0,"h":84.9,"l":83.8,"c":84.6},
{"d":"2005-11-17","o":84.7,"h":85.7,"l":84.4,"c":85.4},
{"d":"2005-11-18","o":85.4,"h":86.1,"l":85.0,"c":85.3},
{"d":"2005-11-21","o":85.3,"h":85.6,"l":84.6,"c":85.0},
{"d":"2005-11-22","o":85.1,"h":86.3,"l":85.0,"c":86.1},
{"d":"2005-11-23","o":86.1,"h":86.9,"l":85.7,"c":86.5},
{"d":"2005-11-25","o":86.4,"h":86.7,"l":85.8,"c":86.2},
{"d":"2005-11-28","o":86.0,"h":86.0,"l":84.6,"c":84.8},
{"d":"2005-11-29","o":84.8,"h":85.3,"l":83.5,"c":84.0},
{"d":"2005-11-30","o":84.1,"h":85.5,"l":83.9,"c":85.2},
{"d":"2005-12-01","o":85.3,"h":86.6,"l":85.1,"c":86.3},
{"d":"2005-12-02","o":86.2,"h":86.4,"l":85.3,"c":85.6},
{"d":"2005-12-05","o":85.6,"h":86.1,"l":84.6,"c":85.0},
{"d":"2005-12-06","o":85.0,"h":85.9,"l":84.7,"c":85.6},
{"d":"2005-12-07","o":85.5,"h":85.7,"l":84.4,"c":84.7},
{"d":"2005-12-08","o":84.8,"h":85.1,"l":84.0,"c":84.6},
{"d":"2005-12-09","o":84.7,"h":85.9,"l":84.5,"c":85.7},
{"d":"2005-12-12","o":85.8,"h":86.7,"l":85.5,"c":86.2},
{"d":"2005-12-13","o":86.2,"h":86.6,"l":85.6,"c":86.0},
{"d":"2005-12-14","o":86.8,"h":90.2,"l":86.6,"c":89.9},
{"d":"2005-12-15","o":89.8,"h":90.0,"l":87.4,"c":87.9},
{"d":"2005-12-16","o":87.8,"h":88.8,"l":86.2,"c":86.6},
{"d":"2005-12-19","o":86.7,"h":87.5,"l":85.3,"c":86.8},
{"d":"2005-12-20","o":86.5,"h":86.6,"l":84.6,"c":85.0},
{"d":"2005-12-21","o":84.9,"h":85.0,"l":82.5,"c":84.2},
{"d":"2005-12-22","o":84.3,"h":86.0,"l":84.0,"c":85.7},
{"d":"2005-12-23","o":85.7,"h":86.7,"l":85.6,"c":86.4},
{"d":"2005-12-27","o":86.4,"h":87.0,"l":85.9,"c":86.1},
{"d":"2005-12-28","o":86.1,"h":86.6,"l":85.1,"c":85.4},
{"d":"2005-12-29","o":85.4,"h":86.3,"l":84.6,"c":85.9},
{"d":"2005-12-30","o":85.8,"h":85.9,"l":84.1,"c":84.6},
{"d":"2006-01-03","o":84.8,"h":85.5,"l":84.1,"c":85.2},
{"d":"2006-01-04","o":85.2,"h":85.4,"l":84.3,"c":84.6},
{"d":"2006-01-05","o":84.6,"h":85.3,"l":84.2,"c":85.0},
{"d":"2006-01-06","o":85.1,"h":86.3,"l":84.9,"c":86.0},
{"d":"2006-01-09","o":86.0,"h":86.6,"l":85.2,"c":85.5},
{"d":"2006-01-10","o":85.4,"h":85.8,"l":84.4,"c":85.3},
{"d":"2006-01-11","o":85.4,"h":86.9,"l":85.2,"c":86.5},
{"d":"2006-01-12","o":86.5,"h":86.8,"l":85.6,"c":85.9},
{"d":"2006-01-13","o":85.8,"h":85.8,"l":84.1,"c":84.5},
{"d":"2006-01-17","o":84.3,"h":84.4,"l":83.4,"c":83.6},
{"d":"2006-01-18","o":83.5,"h":84.1,"l":82.6,"c":82.9},
{"d":"2006-01-19","o":83.0,"h":83.5,"l":82.5,"c":83.2},
{"d":"2006-01-20","o":83.2,"h":84.4,"l":81.8,"c":82.2},
{"d":"2006-01-23","o":82.0,"h":82.2,"l":80.3,"c":80.9},
{"d":"2006-01-24","o":81.2,"h":84.0,"l":81.1,"c":83.5},
{"d":"2006-01-25","o":83.4,"h":83.6,"l":82.0,"c":82.4},
{"d":"2006-01-26","o":82.5,"h":83.3,"l":82.2,"c":82.8},
{"d":"2006-01-27","o":82.8,"h":83.3,"l":82.4,"c":82.6},
{"d":"2006-01-30","o":81.6,"h":81.6,"l":79.5,"c":80.0},
{"d":"2006-01-31","o":80.0,"h":80.8,"l":79.4,"c":80.5},
{"d":"2006-02-01","o":80.6,"h":82.4,"l":80.5,"c":82.1},
{"d":"2006-02-02","o":82.1,"h":82.9,"l":81.4,"c":81.8},
{"d":"2006-02-03","o":81.8,"h":82.3,"l":81.4,"c":82.0},
{"d":"2006-02-06","o":82.2,"h":84.5,"l":82.1,"c":83.9},
{"d":"2006-02-07","o":83.8,"h":84.0,"l":82.2,"c":82.6},
{"d":"2006-02-08","o":82.6,"h":83.5,"l":82.0,"c":83.2},
{"d":"2006-02-09","o":83.2,"h":83.7,"l":82.3,"c":82.7},
{"d":"2006-02-10","o":82.7,"h":83.4,"l":82.4,"c":83.1},
{"d":"2006-02-13","o":83.0,"h":83.6,"l":82.5,"c":82.8},
{"d":"2006-02-14","o":82.8,"h":83.4,"l":82.4,"c":83.2},
{"d":"2006-02-15","o":83.2,"h":84.0,"l":82.9,"c":83.6},
{"d":"2006-02-16","o":83.5,"h":83.9,"l":83.0,"c":83.3},
{"d":"2006-02-17","o":83.3,"h":83.9,"l":83.0,"c":83.7},
{"d":"2006-02-21","o":83.9,"h":85.3,"l":83.8,"c":85.0},
{"d":"2006-02-22","o":85.0,"h":86.0,"l":84.6,"c":85.5},
{"d":"2006-02-23","o":85.5,"h":86.2,"l":85.2,"c":86.0},
{"d":"2006-02-24","o":86.0,"h":86.5,"l":85.4,"c":85.7},
{"d":"2006-02-27","o":85.7,"h":86.4,"l":85.2,"c":86.2},
{"d":"2006-02-28","o":86.1,"h":86.3,"l":85.3,"c":85.6},
{"d":"2006-03-01","o":85.5,"h":85.8,"l":84.5,"c":84.8},
{"d":"2006-03-02","o":84.8,"h":85.2,"l":84.3,"c":85.0},
{"d":"2006-03-03","o":85.0,"h":86.7,"l":84.9,"c":86.3},
{"d":"2006-03-06","o":86.2,"h":86.4,"l":84.3,"c":84.6},
{"d":"2006-03-07","o":84.5,"h":84.8,"l":83.3,"c":83.6},
{"d":"2006-03-08","o":83.6,"h":84.2,"l":82.8,"c":83.9},
{"d":"2006-03-09","o":83.9,"h":84.1,"l":83.2,"c":83.5},
{"d":"2006-03-10","o":83.5,"h":84.1,"l":83.2,"c":83.8},
{"d":"2006-03-13","o":83.8,"h":84.0,"l":83.3,"c":83.4},
{"d":"2006-03-14","o":83.4,"h":84.1,"l":83.2,"c":83.9},
{"d":"2006-03-15","o":84.0,"h":85.5,"l":83.9,"c":85.0},
{"d":"2006-03-16","o":85.0,"h":85.2,"l":84.1,"c":84.4},
{"d":"2006-03-17","o":84.4,"h":85.0,"l":84.0,"c":84.8},
{"d":"2006-03-20","o":84.8,"h":84.8,"l":83.6,"c":84.0},
{"d":"2006-03-21","o":84.0,"h":84.6,"l":83.7,"c":84.4},
{"d":"2006-03-22","o":84.6,"h":86.2,"l":84.5,"c":85.9},
{"d":"2006-03-23","o":85.9,"h":86.1,"l":85.0,"c":85.3},
{"d":"2006-03-24","o":85.2,"h":85.3,"l":84.2,"c":84.5},
{"d":"2006-03-27","o":84.5,"h":85.0,"l":83.7,"c":84.1},
{"d":"2006-03-28","o":84.1,"h":84.8,"l":83.9,"c":84.6},
{"d":"2006-03-29","o":84.6,"h":85.0,"l":84.0,"c":84.3},
{"d":"2006-03-30","o":84.3,"h":84.9,"l":83.7,"c":84.0},
{"d":"2006-03-31","o":84.0,"h":85.0,"l":83.9,"c":84.7},
{"d":"2006-04-03","o":84.7,"h":84.9,"l":83.8,"c":84.1},
{"d":"2006-04-04","o":84.1,"h":84.4,"l":83.3,"c":83.6},
{"d":"2006-04-05","o":83.6,"h":84.2,"l":83.1,"c":83.9},
{"d":"2006-04-06","o":83.9,"h":84.3,"l":83.4,"c":83.7},
{"d":"2006-04-07","o":83.7,"h":83.9,"l":82.6,"c":82.9},
{"d":"2006-04-10","o":82.8,"h":83.2,"l":81.4,"c":81.8},
{"d":"2006-04-11","o":81.8,"h":82.8,"l":81.5,"c":82.4},
{"d":"2006-04-12","o":82.4,"h":82.6,"l":81.2,"c":81.5},
{"d":"2006-04-13","o":81.5,"h":82.3,"l":81.3,"c":82.0},
{"d":"2006-04-17","o":81.9,"h":81.9,"l":80.7,"c":81.0},
{"d":"2006-04-18","o":81.0,"h":81.7,"l":80.4,"c":81.4},
{"d":"2006-04-19","o":81.4,"h":81.6,"l":80.6,"c":80.8},
{"d":"2006-04-20","o":80.9,"h":82.3,"l":80.8,"c":81.9},
{"d":"2006-04-21","o":81.9,"h":82.2,"l":81.2,"c":81.5},
{"d":"2006-04-24","o":81.4,"h":81.6,"l":80.4,"c":80.7},
{"d":"2006-04-25","o":80.7,"h":81.5,"l":80.1,"c":81.2},
{"d":"2006-04-26","o":81.2,"h":81.4,"l":80.3,"c":80.6},
{"d":"2006-04-27","o":80.5,"h":80.7,"l":79.5,"c":80.0},
{"d":"2006-04-28","o":80.0,"h":81.5,"l":79.9,"c":81.2},
{"d":"2006-05-01","o":81.1,"h":81.2,"l":80.2,"c":80.5},
{"d":"2006-05-02","o":80.5,"h":81.0,"l":79.8,"c":80.8},
{"d":"2006-05-03","o":80.7,"h":81.0,"l":79.7,"c":80.0},
{"d":"2006-05-04","o":80.1,"h":80.9,"l":79.9,"c":80.7},
{"d":"2006-05-05","o":80.8,"h":81.9,"l":80.7,"c":81.6},
{"d":"2006-05-08","o":81.6,"h":82.2,"l":81.2,"c":81.5},
{"d":"2006-05-09","o":81.5,"h":82.1,"l":81.0,"c":81.9},
{"d":"2006-05-10","o":81.9,"h":82.0,"l":81.0,"c":81.3},
{"d":"2006-05-11","o":81.2,"h":81.2,"l":80.0,"c":80.3},
{"d":"2006-05-12","o":80.3,"h":80.9,"l":79.6,"c":80.6},
{"d":"2006-05-15","o":80.6,"h":80.8,"l":79.7,"c":80.0},
{"d":"2006-05-16","o":80.0,"h":80.1,"l":79.0,"c":79.3},
{"d":"2006-05-17","o":79.3,"h":79.6,"l":78.8,"c":79.0},
{"d":"2006-05-18","o":78.2,"h":78.2,"l":77.3,"c":77.5},
{"d":"2006-05-19","o":77.5,"h":78.0,"l":76.6,"c":77.0},
{"d":"2006-05-22","o":77.1,"h":78.8,"l":77.0,"c":78.6},
{"d":"2006-05-23","o":78.6,"h":80.5,"l":78.3,"c":78.9},
{"d":"2006-05-24","o":78.9,"h":79.6,"l":77.8,"c":79.3},
{"d":"2006-05-25","o":79.3,"h":80.7,"l":79.1,"c":80.2},
{"d":"2006-05-26","o":80.1,"h":80.4,"l":79.4,"c":79.6},
{"d":"2006-05-30","o":79.6,"h":80.0,"l":79.1,"c":79.4},
{"d":"2006-05-31","o":79.5,"h":80.5,"l":79.3,"c":80.1},
{"d":"2006-06-01","o":80.2,"h":81.2,"l":80.0,"c":80.9},
{"d":"2006-06-02","o":80.8,"h":81.0,"l":79.2,"c":79.5},
{"d":"2006-06-05","o":79.4,"h":79.7,"l":78.6,"c":78.9},
{"d":"2006-06-06","o":79.0,"h":80.5,"l":78.8,"c":80.2},
{"d":"2006-06-07","o":80.1,"h":80.3,"l":79.3,"c":79.6},
{"d":"2006-06-08","o":79.7,"h":80.9,"l":79.6,"c":80.6},
{"d":"2006-06-09","o":80.6,"h":81.7,"l":80.4,"c":81.4},
{"d":"2006-06-12","o":81.3,"h":81.5,"l":80.3,"c":80.6},
{"d":"2006-06-13","o":80.6,"h":81.1,"l":80.0,"c":80.8},
{"d":"2006-06-14","o":80.9,"h":81.7,"l":80.7,"c":81.5},
{"d":"2006-06-15","o":81.6,"h":83.3,"l":81.5,"c":83.0},
{"d":"2006-06-16","o":83.0,"h":83.4,"l":82.0,"c":82.3},
{"d":"2006-06-19","o":82.3,"h":83.0,"l":81.3,"c":81.7},
{"d":"2006-06-20","o":81.8,"h":83.6,"l":81.7,"c":83.2},
{"d":"2006-06-21","o":83.1,"h":83.4,"l":82.5,"c":82.8},
{"d":"2006-06-22","o":82.9,"h":84.3,"l":82.8,"c":84.0},
{"d":"2006-06-23","o":84.0,"h":84.3,"l":83.2,"c":83.5},
{"d":"2006-06-26","o":83.6,"h":84.0,"l":82.5,"c":83.4},
{"d":"2006-06-27","o":83.4,"h":83.6,"l":82.7,"c":83.1},
{"d":"2006-06-28","o":80.8,"h":81.0,"l":78.3,"c":78.9},
{"d":"2006-06-29","o":79.1,"h":81.3,"l":79.0,"c":80.9},
{"d":"2006-06-30","o":80.9,"h":81.2,"l":80.3,"c":80.6},
{"d":"2006-07-03","o":80.5,"h":80.6,"l":79.3,"c":79.6},
{"d":"2006-07-05","o":79.6,"h":79.8,"l":78.6,"c":78.9},
{"d":"2006-07-06","o":78.9,"h":79.6,"l":78.5,"c":79.3},
{"d":"2006-07-07","o":79.2,"h":79.4,"l":78.3,"c":78.5},
{"d":"2006-07-10","o":78.5,"h":78.6,"l":77.7,"c":78.0},
{"d":"2006-07-11","o":78.0,"h":78.5,"l":77.6,"c":78.3},
{"d":"2006-07-12","o":78.2,"h":78.4,"l":77.6,"c":77.8},
{"d":"2006-07-13","o":77.8,"h":78.6,"l":77.7,"c":78.4},
{"d":"2006-07-14","o":78.4,"h":78.8,"l":77.4,"c":77.7},
{"d":"2006-07-17","o":77.7,"h":78.5,"l":77.5,"c":78.2},
{"d":"2006-07-18","o":78.2,"h":78.8,"l":77.6,"c":78.5},
{"d":"2006-07-19","o":78.6,"h":79.8,"l":78.4,"c":79.5},
{"d":"2006-07-20","o":79.5,"h":80.1,"l":78.9,"c":79.2},
{"d":"2006-07-21","o":79.1,"h":80.4,"l":78.9,"c":80.0},
{"d":"2006-07-24","o":80.0,"h":80.2,"l":79.2,"c":79.5},
{"d":"2006-07-25","o":79.5,"h":80.8,"l":79.3,"c":80.4},
{"d":"2006-07-26","o":80.4,"h":80.6,"l":78.7,"c":79.0},
{"d":"2006-07-27","o":79.0,"h":79.8,"l":78.1,"c":78.6},
{"d":"2006-07-28","o":78.6,"h":80.1,"l":78.4,"c":79.7},
{"d":"2006-07-31","o":79.6,"h":79.8,"l":78.0,"c":78.3},
{"d":"2006-08-01","o":78.3,"h":78.6,"l":77.1,"c":77.4},
{"d":"2006-08-02","o":77.4,"h":78.2,"l":76.4,"c":77.8},
{"d":"2006-08-03","o":77.8,"h":78.1,"l":77.0,"c":77.3},
{"d":"2006-08-04","o":77.3,"h":78.3,"l":76.5,"c":76.9},
{"d":"2006-08-07","o":76.9,"h":77.4,"l":76.3,"c":76.6},
{"d":"2006-08-08","o":76.6,"h":77.6,"l":75.9,"c":76.2},
{"d":"2006-08-09","o":76.2,"h":76.3,"l":75.0,"c":75.4},
{"d":"2006-08-10","o":75.5,"h":76.2,"l":75.3,"c":76.0},
{"d":"2006-08-11","o":76.0,"h":77.4,"l":75.9,"c":77.0},
{"d":"2006-08-14","o":77.0,"h":77.2,"l":76.0,"c":76.3},
{"d":"2006-08-15","o":76.4,"h":77.1,"l":75.8,"c":76.8},
{"d":"2006-08-16","o":76.8,"h":77.1,"l":75.9,"c":76.1},
{"d":"2006-08-17","o":76.1,"h":76.8,"l":75.7,"c":76.5},
{"d":"2006-08-18","o":76.5,"h":77.0,"l":76.0,"c":76.3},
{"d":"2006-08-21","o":76.3,"h":76.7,"l":75.8,"c":76.0},
{"d":"2006-08-22","o":76.0,"h":77.1,"l":75.9,"c":76.6},
{"d":"2006-08-23","o":76.6,"h":76.9,"l":75.8,"c":76.2},
{"d":"2006-08-24","o":76.2,"h":76.8,"l":75.9,"c":76.5},
{"d":"2006-08-25","o":76.5,"h":76.7,"l":75.8,"c":76.1},
{"d":"2006-08-28","o":77.3,"h":78.3,"l":77.2,"c":78.0},
{"d":"2006-08-29","o":78.0,"h":79.3,"l":77.9,"c":79.0},
{"d":"2006-08-30","o":79.0,"h":79.9,"l":78.7,"c":79.6},
{"d":"2006-08-31","o":79.6,"h":80.3,"l":79.2,"c":80.0},
{"d":"2006-09-01","o":80.0,"h":81.2,"l":79.8,"c":80.9},
{"d":"2006-09-05","o":80.9,"h":81.0,"l":79.6,"c":80.2},
{"d":"2006-09-06","o":80.3,"h":81.6,"l":80.1,"c":81.3},
{"d":"2006-09-07","o":81.3,"h":82.4,"l":81.0,"c":82.1},
{"d":"2006-09-08","o":82.1,"h":82.3,"l":81.1,"c":81.6},
{"d":"2006-09-11","o":81.6,"h":83.2,"l":81.3,"c":82.8},
{"d":"2006-09-12","o":82.8,"h":83.7,"l":82.4,"c":82.6},
{"d":"2006-09-13","o":82.6,"h":83.1,"l":81.9,"c":82.3},
{"d":"2006-09-14","o":82.3,"h":82.9,"l":81.8,"c":82.7},
{"d":"2006-09-15","o":82.7,"h":83.0,"l":82.0,"c":82.2},
{"d":"2006-09-18","o":82.1,"h":82.2,"l":81.0,"c":81.3},
{"d":"2006-09-19","o":81.3,"h":81.9,"l":80.4,"c":81.7},
{"d":"2006-09-20","o":81.8,"h":83.6,"l":81.6,"c":83.2},
{"d":"2006-09-21","o":83.1,"h":83.4,"l":82.1,"c":82.6},
{"d":"2006-09-22","o":84.6,"h":86.6,"l":84.5,"c":86.3},
{"d":"2006-09-25","o":86.4,"h":88.1,"l":86.2,"c":87.8},
{"d":"2006-09-26","o":87.8,"h":88.5,"l":87.3,"c":87.6},
{"d":"2006-09-27","o":87.6,"h":88.3,"l":87.2,"c":88.0},
{"d":"2006-09-28","o":88.0,"h":88.0,"l":87.0,"c":87.3},
{"d":"2006-09-29","o":87.3,"h":87.9,"l":86.6,"c":87.6},
{"d":"2006-10-02","o":87.6,"h":87.9,"l":86.8,"c":87.1},
{"d":"2006-10-03","o":87.1,"h":88.4,"l":86.9,"c":88.1},
{"d":"2006-10-04","o":88.1,"h":89.2,"l":87.8,"c":88.9},
{"d":"2006-10-05","o":88.9,"h":89.0,"l":87.9,"c":88.2},
{"d":"2006-10-06","o":88.2,"h":88.9,"l":87.6,"c":87.9},
{"d":"2006-10-09","o":87.9,"h":88.6,"l":87.1,"c":88.4},
{"d":"2006-10-10","o":88.4,"h":88.8,"l":87.9,"c":88.1},
{"d":"2006-10-11","o":88.1,"h":89.6,"l":87.8,"c":89.3},
{"d":"2006-10-12","o":89.3,"h":90.4,"l":89.0,"c":89.8},
{"d":"2006-10-13","o":89.8,"h":90.2,"l":88.8,"c":89.1},
{"d":"2006-10-16","o":89.1,"h":89.7,"l":88.2,"c":88.5},
{"d":"2006-10-17","o":88.4,"h":89.0,"l":87.8,"c":88.7},
{"d":"2006-10-18","o":88.7,"h":89.7,"l":88.5,"c":89.4},
{"d":"2006-10-19","o":89.4,"h":89.6,"l":88.5,"c":88.9},
{"d":"2006-10-20","o":89.0,"h":90.3,"l":88.8,"c":90.0},
{"d":"2006-10-23","o":90.0,"h":90.9,"l":89.6,"c":90.6},
{"d":"2006-10-24","o":90.9,"h":93.0,"l":90.8,"c":92.5},
{"d":"2006-10-25","o":92.5,"h":93.7,"l":92.2,"c":92.8},
{"d":"2006-10-26","o":92.7,"h":92.9,"l":91.0,"c":91.4},
{"d":"2006-10-27","o":91.4,"h":91.8,"l":90.7,"c":91.2},
{"d":"2006-10-30","o":91.2,"h":91.6,"l":90.8,"c":91.3},
{"d":"2006-10-31","o":91.3,"h":91.7,"l":90.7,"c":91.0},
{"d":"2006-11-01","o":91.0,"h":91.6,"l":90.3,"c":91.4},
{"d":"2006-11-02","o":91.5,"h":93.4,"l":91.3,"c":93.0},
{"d":"2006-11-03","o":93.0,"h":93.2,"l":91.7,"c":92.1},
{"d":"2006-11-06","o":92.1,"h":92.9,"l":91.5,"c":92.6},
{"d":"2006-11-07","o":92.6,"h":92.8,"l":91.3,"c":91.8},
{"d":"2006-11-08","o":91.8,"h":92.7,"l":91.6,"c":92.4},
{"d":"2006-11-09","o":92.5,"h":94.2,"l":92.4,"c":93.9},
{"d":"2006-11-10","o":93.9,"h":94.6,"l":93.2,"c":93.6},
{"d":"2006-11-13","o":93.7,"h":94.9,"l":93.5,"c":94.6},
{"d":"2006-11-14","o":94.6,"h":95.6,"l":94.3,"c":95.2},
{"d":"2006-11-15","o":95.2,"h":95.5,"l":94.4,"c":94.8},
{"d":"2006-11-16","o":94.8,"h":95.6,"l":94.5,"c":95.4},
{"d":"2006-11-17","o":95.4,"h":96.3,"l":95.2,"c":96.0},
{"d":"2006-11-20","o":96.0,"h":96.6,"l":95.5,"c":95.8},
{"d":"2006-11-21","o":95.8,"h":97.0,"l":95.6,"c":96.6},
{"d":"2006-11-22","o":96.6,"h":96.8,"l":95.4,"c":95.7},
{"d":"2006-11-24","o":95.7,"h":96.4,"l":94.8,"c":95.1},
{"d":"2006-11-27","o":95.2,"h":96.5,"l":95.0,"c":96.3},
{"d":"2006-11-28","o":96.3,"h":98.0,"l":96.0,"c":97.7},
{"d":"2006-11-29","o":97.7,"h":99.0,"l":97.4,"c":98.6},
{"d":"2006-11-30","o":98.6,"h":98.8,"l":97.3,"c":97.7},
{"d":"2006-12-01","o":97.6,"h":98.6,"l":96.2,"c":96.6},
{"d":"2006-12-04","o":96.6,"h":98.1,"l":95.9,"c":97.8},
{"d":"2006-12-05","o":97.8,"h":98.6,"l":97.3,"c":98.2},
{"d":"2006-12-06","o":98.2,"h":98.5,"l":97.1,"c":97.5},
{"d":"2006-12-07","o":97.5,"h":98.4,"l":96.9,"c":98.0},
{"d":"2006-12-08","o":97.9,"h":98.1,"l":96.3,"c":96.7},
{"d":"2006-12-11","o":96.7,"h":97.4,"l":95.8,"c":96.1},
{"d":"2006-12-12","o":96.1,"h":96.6,"l":95.1,"c":95.5},
{"d":"2006-12-13","o":95.5,"h":97.3,"l":95.3,"c":96.9},
{"d":"2006-12-14","o":96.9,"h":97.2,"l":95.8,"c":96.2},
{"d":"2006-12-15","o":96.2,"h":96.5,"l":94.8,"c":95.3},
{"d":"2006-12-18","o":95.3,"h":96.3,"l":95.0,"c":95.9},
{"d":"2006-12-19","o":96.0,"h":96.8,"l":95.6,"c":96.5},
{"d":"2006-12-20","o":99.0,"h":101.2,"l":98.7,"c":100.3},
{"d":"2006-12-21","o":100.2,"h":100.4,"l":99.3,"c":99.6},
{"d":"2006-12-22","o":99.6,"h":100.2,"l":99.0,"c":99.9},
{"d":"2006-12-26","o":99.9,"h":100.1,"l":99.0,"c":99.3},
{"d":"2006-12-27","o":99.4,"h":100.0,"l":98.9,"c":99.7},
{"d":"2006-12-28","o":99.7,"h":99.9,"l":99.0,"c":99.2},
{"d":"2006-12-29","o":99.2,"h":99.3,"l":98.2,"c":98.5},
{"d":"2007-01-03","o":98.5,"h":99.2,"l":96.8,"c":97.2},
{"d":"2007-01-04","o":97.3,"h":98.8,"l":97.1,"c":98.5},
{"d":"2007-01-05","o":98.5,"h":99.5,"l":97.6,"c":97.9},
{"d":"2007-01-08","o":98.0,"h":99.6,"l":97.9,"c":99.4},
{"d":"2007-01-09","o":99.4,"h":100.0,"l":99.0,"c":99.6},
{"d":"2007-01-10","o":99.5,"h":100.1,"l":99.1,"c":99.9},
{"d":"2007-01-11","o":99.9,"h":100.4,"l":99.3,"c":99.6},
{"d":"2007-01-12","o":99.6,"h":100.3,"l":99.2,"c":100.0},
{"d":"2007-01-16","o":100.0,"h":100.3,"l":99.4,"c":99.7},
{"d":"2007-01-17","o":99.80,"h":99.90,"l":99.05,"c":99.82},
{"d":"2007-01-18","o":99.8,"h":100.3,"l":99.5,"c":99.94},
{"d":"2007-01-19","o":99.9,"h":100.2,"l":97.4,"c":98.06}
]
},
"layer": [
{
  "data": {"values": [{"d": "2007-01-17"}]},
  "mark": {"type": "rule", "color": "#a3b3b0", "strokeWidth": 1},
  "encoding": {
    "x": {"field": "d", "type": "ordinal", "scale": {"type": "point"},
      "axis": {
        "orient": "bottom",
        "values": ["2004-01-20","2004-03-01","2004-04-01","2004-05-03","2004-06-01","2004-07-01","2004-08-02","2004-09-01","2004-10-01","2004-11-01","2004-12-01","2005-01-03","2005-02-01","2005-03-01","2005-04-01","2005-05-02","2005-06-01","2005-07-01","2005-08-01","2005-09-01","2005-10-03","2005-11-01","2005-12-01","2006-01-03","2006-02-01","2006-03-01","2006-04-03","2006-05-01","2006-06-01","2006-07-03","2006-08-01","2006-09-01","2006-10-02","2006-11-01","2006-12-01","2007-01-03","2007-02-01"],
        "labelExpr": "substring(datum.value,5,7)=='01' ? substring(datum.value,2,4) : timeFormat(toDate(datum.value + 'T12:00:00'), '%b')",
        "labelFontWeight": {"condition": {"test": "substring(datum.value,5,7)=='01'", "value": "bold"}, "value": "normal"},
        "gridWidth": {"condition": {"test": "substring(datum.value,5,7)=='01'", "value": 2}, "value": 1},
        "labelAngle": 0,
        "labelFlush": true,
        "labelPadding": 3,
        "labelOverlap": false,
        "grid": true,
        "title": "\u25cf",
        "titleColor": "#55b030",
        "titleFontSize": 12,
        "titleFont": "DejaVu Sans",
        "titleX": 9,
        "titleY": -1024,
        "titleAlign": "center",
        "titleBaseline": "middle",
        "titleAngle": 0
      }
    }
  }
},
{
  "data": {"name": "nke"},
  "mark": {"type": "rule", "color": "#000000", "strokeWidth": 1},
  "encoding": {
    "x": {"field": "d", "type": "ordinal",
      "scale": {"type": "point", "padding": 0, "range": [3, 1416],
        "domain": {"unionWith": ["2007-01-22","2007-01-23","2007-01-24","2007-01-25","2007-01-26","2007-01-29","2007-01-30","2007-01-31","2007-02-01","2007-02-02","2007-02-05","2007-02-06","2007-02-07","2007-02-08","2007-02-09"]}}},
    "y": {"field": "l", "type": "quantitative",
      "scale": {"type": "log", "domain": [62.38, 101.59], "nice": false, "zero": false},
      "axis": {
        "orient": "right",
        "values": [63,64,65,66,67,68,69,70,71,72,73,74,75,76,77,78,79,80,81,82,83,84,85,86,87,88,89,90,91,92,93,94,95,96,97,98,99,100,101],
        "format": "d",
        "labelAlign": "left",
        "labelBaseline": "middle",
        "labelPadding": 3,
        "grid": true,
        "gridWidth": 1,
        "title": "-1.88\u00a0\u00a0\u00a0-1.88%",
        "titleColor": "#ff0000",
        "titleFont": "DejaVu Sans",
        "titleFontSize": 10,
        "titleFontWeight": "bold",
        "titleAngle": 0,
        "titleAlign": "left",
        "titleBaseline": "middle",
        "titleX": -1259,
        "titleY": -25
      }
    },
    "y2": {"field": "h"}
  }
},
{
  "data": {"name": "nke"},
  "mark": {"type": "tick", "orient": "horizontal", "size": 2, "thickness": 1, "xOffset": -1, "color": "#000000", "opacity": 1},
  "encoding": {
    "x": {"field": "d", "type": "ordinal", "scale": {"type": "point"}},
    "y": {"field": "o", "type": "quantitative", "scale": {"type": "log"},
      "axis": {
        "orient": "left",
        "labels": false,
        "grid": false,
        "ticks": false,
        "domain": false,
        "title": "D: 01/17/2007 O:99.80 H:99.90 L:99.05 C:99.82 R:0.85 Y:92.6971",
        "titleColor": "#000000",
        "titleFont": "DejaVu Sans",
        "titleFontSize": 10,
        "titleFontWeight": "normal",
        "titleAngle": 0,
        "titleAlign": "left",
        "titleBaseline": "middle",
        "titleX": 4,
        "titleY": -8
      }
    }
  }
},
{
  "data": {"name": "nke"},
  "mark": {"type": "tick", "orient": "horizontal", "size": 2, "thickness": 1, "xOffset": 1, "color": "#000000", "opacity": 1},
  "encoding": {
    "x": {"field": "d", "type": "ordinal", "scale": {"type": "point"}},
    "y": {"field": "c", "type": "quantitative", "scale": {"type": "log"}, "axis": null}
  }
}
]
}
